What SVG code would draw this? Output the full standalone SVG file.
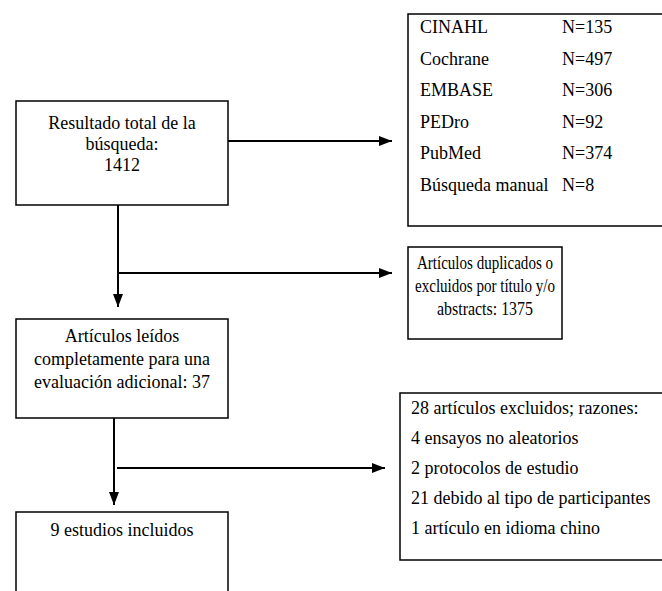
<svg xmlns="http://www.w3.org/2000/svg" width="662" height="591" viewBox="0 0 662 591">
<defs>
<marker id="ah" markerWidth="13" markerHeight="10" refX="13" refY="5" orient="auto" markerUnits="userSpaceOnUse">
<path d="M0,0 L13,5 L0,10 Z" fill="#000"/>
</marker>
<style>
.box{fill:#fff;stroke:#000;stroke-width:1.5}
.t{font-size:18px;fill:#000}
.s{font-size:19px}
.c{text-anchor:middle}
.ln{fill:none;stroke:#000;stroke-width:2}
</style>
</defs>
<rect width="662" height="591" fill="#fff"/>
<g id="connectors">
<line class="ln" x1="228" y1="141" x2="392" y2="141" marker-end="url(#ah)"/>
<line class="ln" x1="118" y1="205" x2="118" y2="307" marker-end="url(#ah)"/>
<line class="ln" x1="118" y1="273" x2="392" y2="273" marker-end="url(#ah)"/>
<line class="ln" x1="114" y1="418" x2="114" y2="505" marker-end="url(#ah)"/>
<line class="ln" x1="117" y1="468" x2="385" y2="468" marker-end="url(#ah)"/>
</g>
<g font-family="'Liberation Serif', 'DejaVu Serif', serif">
<g id="n_total">
<rect class="box" x="16" y="101" width="212" height="104"/>
<text class="t c" x="122" y="129">Resultado total de la</text>
<text class="t c" x="122" y="150">búsqueda:</text>
<text class="t c" x="122" y="171">1412</text>
</g>
<g id="n_db">
<rect class="box" x="408" y="14" width="260" height="212"/>
<text class="t" x="420" y="33">CINAHL</text><text class="t" x="562" y="33">N=135</text>
<text class="t" x="420" y="64.5">Cochrane</text><text class="t" x="562" y="64.5">N=497</text>
<text class="t" x="420" y="96">EMBASE</text><text class="t" x="562" y="96">N=306</text>
<text class="t" x="420" y="127.5">PEDro</text><text class="t" x="562" y="127.5">N=92</text>
<text class="t" x="420" y="159">PubMed</text><text class="t" x="562" y="159">N=374</text>
<text class="t" x="420" y="190.5">Búsqueda manual</text><text class="t" x="562" y="190.5">N=8</text>
</g>
<g id="n_dup">
<rect class="box" x="408" y="247" width="154" height="92"/>
<text class="t s c" x="485" y="269" textLength="136" lengthAdjust="spacingAndGlyphs">Artículos duplicados o</text>
<text class="t s c" x="485" y="292" textLength="140" lengthAdjust="spacingAndGlyphs">excluidos por título y/o</text>
<text class="t s c" x="485" y="315" textLength="96" lengthAdjust="spacingAndGlyphs">abstracts: 1375</text>
</g>
<g id="n_read">
<rect class="box" x="16" y="319" width="212" height="99"/>
<text class="t c" x="122" y="342">Artículos leídos</text>
<text class="t c" x="122" y="365">completamente para una</text>
<text class="t c" x="122" y="388">evaluación adicional: 37</text>
</g>
<g id="n_excl">
<rect class="box" x="400" y="393" width="270" height="167"/>
<text class="t" x="411" y="414">28 artículos excluidos; razones:</text>
<text class="t" x="411" y="444">4 ensayos no aleatorios</text>
<text class="t" x="411" y="474">2 protocolos de estudio</text>
<text class="t" x="411" y="504">21 debido al tipo de participantes</text>
<text class="t" x="411" y="534">1 artículo en idioma chino</text>
</g>
<g id="n_incl">
<rect class="box" x="16" y="512" width="212" height="90"/>
<text class="t c" x="122" y="536">9 estudios incluidos</text>
</g>
</g>
</svg>
